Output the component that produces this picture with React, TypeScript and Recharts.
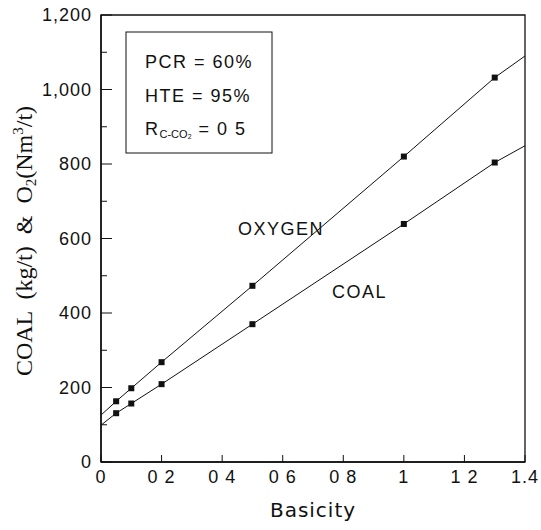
import { LineChart, Line, XAxis, YAxis, ReferenceArea } from "recharts";

// basicity values (ends at 0 and 1.4 are the line extensions, no marker)
const basicity = [0, 0.05, 0.1, 0.2, 0.5, 1.0, 1.3, 1.4];
const oxygen = [126, 163, 198, 268, 473, 820, 1032, 1090];
const coal = [99, 131, 157, 209, 370, 639, 804, 849];
const hasMarker = [false, true, true, true, true, true, true, false];

const xTicks = [0, 0.2, 0.4, 0.6, 0.8, 1.0, 1.2, 1.4];
const xTickLabels = ["0", "0 2", "0 4", "0 6", "0 8", "1", "1 2", "1.4"];
const yTicks = [0, 100, 200, 300, 400, 500, 600, 700, 800, 900, 1000, 1100, 1200];
const yMajorTicks = [0, 200, 400, 600, 800, 1000, 1200];
const yTickLabels = ["0", "200", "400", "600", "800", "1,000", "1,200"];

const data = basicity.map((x, i) => ({
  x,
  oxygen: oxygen[i],
  coal: coal[i],
  marker: hasMarker[i],
}));

const W = 541;
const H = 530;
const INK = "#111";
const SANS = "'Liberation Sans', Arial, sans-serif";
const TICK_MARGIN = 8;

function SquareDot(props: any) {
  const { cx, cy, payload, index } = props;
  if (!payload?.marker || cx == null || cy == null) return <g key={`d${index}`} />;
  return <rect key={`d${index}`} x={cx - 3} y={cy - 3} width={6} height={6} fill={INK} />;
}

function YTick(props: any) {
  const { x, y, payload } = props;
  const axisX = x + TICK_MARGIN;
  const i = yMajorTicks.indexOf(payload.value);
  const major = i >= 0;
  return (
    <g>
      <line x1={axisX} x2={axisX + (major ? 11 : 6)} y1={y} y2={y} stroke={INK} strokeWidth={1} />
      {major && (
        <text
          x={axisX - 9}
          y={y + 6}
          textAnchor="end"
          fontFamily={SANS}
          fontSize={18}
          letterSpacing={1}
          fill={INK}
        >
          {yTickLabels[i]}
        </text>
      )}
    </g>
  );
}

function XTick(props: any) {
  const { x, y, payload } = props;
  const axisY = y - TICK_MARGIN;
  const i = xTicks.indexOf(payload.value);
  return (
    <g>
      <line x1={x} x2={x} y1={axisY} y2={axisY - 7} stroke={INK} strokeWidth={1} />
      <text
        x={x}
        y={axisY + 21}
        textAnchor="middle"
        fontFamily={SANS}
        fontSize={18}
        letterSpacing={1}
        fill={INK}
      >
        {i >= 0 ? xTickLabels[i] : ""}
      </text>
    </g>
  );
}

export default function App() {
  return (
    <div style={{ position: "absolute", left: 0, top: 0, width: W, height: H, background: "#fff" }}>
      <LineChart width={W} height={H} data={data} margin={{ top: 15, right: 16, left: 0, bottom: 0 }}>
        <XAxis
          dataKey="x"
          type="number"
          domain={[0, 1.4]}
          ticks={xTicks}
          height={68}
          tickSize={0}
          tickMargin={TICK_MARGIN}
          tick={<XTick />}
          axisLine={{ stroke: INK, strokeWidth: 1.5 }}
          interval={0}
        />
        <YAxis
          type="number"
          domain={[0, 1200]}
          ticks={yTicks}
          width={101}
          tickSize={0}
          tickMargin={TICK_MARGIN}
          tick={<YTick />}
          axisLine={{ stroke: INK, strokeWidth: 1.5 }}
          interval={0}
        />
        <ReferenceArea x1={0} x2={1.4} y1={0} y2={1200} fill="none" stroke={INK} strokeWidth={1.3} />
        <Line
          dataKey="oxygen"
          type="linear"
          stroke={INK}
          strokeWidth={1}
          dot={<SquareDot />}
          activeDot={false}
          isAnimationActive={false}
        />
        <Line
          dataKey="coal"
          type="linear"
          stroke={INK}
          strokeWidth={1}
          dot={<SquareDot />}
          activeDot={false}
          isAnimationActive={false}
        />
      </LineChart>

      <svg
        width={W}
        height={H}
        style={{ position: "absolute", left: 0, top: 0, pointerEvents: "none" }}
      >
        <rect x={126} y={32} width={146} height={121} fill="#fff" stroke={INK} strokeWidth={1} />
        <g fontFamily={SANS} fontSize={18} letterSpacing={1.5} fill={INK}>
          <text x={145} y={68}>PCR = 60%</text>
          <text x={145} y={102}>HTE = 95%</text>
          <text x={145} y={135}>
            R
            <tspan fontSize={11} letterSpacing={0} dy={3}>C-CO₂</tspan>
            <tspan dy={-3}> = 0 5</tspan>
          </text>
          <text x={238} y={235}>OXYGEN</text>
          <text x={332} y={298}>COAL</text>
        </g>
        <text
          x={313}
          y={517}
          textAnchor="middle"
          fontFamily="'DejaVu Sans', sans-serif"
          fontSize={20}
          letterSpacing={1}
          fill={INK}
        >
          Basicity
        </text>
        <text
          transform="translate(32 241) rotate(-90)"
          textAnchor="middle"
          fontFamily="'Liberation Serif', 'Times New Roman', serif"
          fontSize={24}
          fill={INK}
          style={{ whiteSpace: "pre" }}
        >
          {"COAL  (kg/t)  &  O"}
          <tspan fontSize={15} dy={4}>2</tspan>
          <tspan dy={-4}>(Nm</tspan>
          <tspan fontSize={15} dy={-9}>3</tspan>
          <tspan dy={9}>/t)</tspan>
        </text>
      </svg>
    </div>
  );
}
